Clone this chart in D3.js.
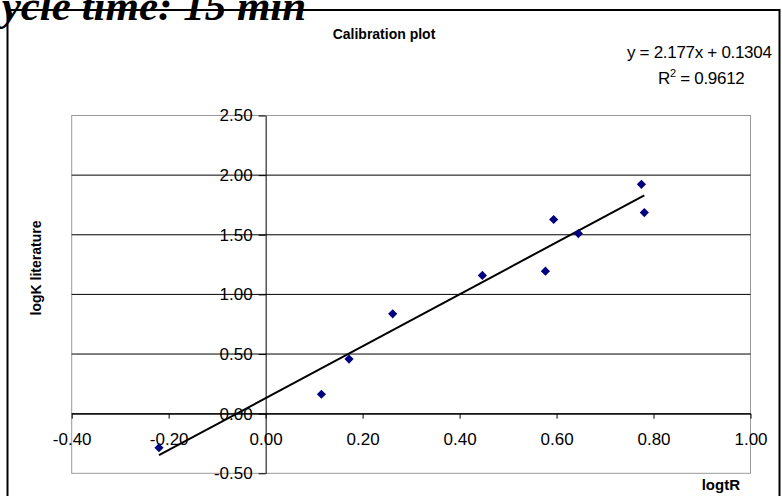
<!DOCTYPE html>
<html>
<head>
<meta charset="utf-8">
<script src="https://cdn.jsdelivr.net/npm/d3@7"></script>
<style>
  html, body { margin: 0; padding: 0; background: #fff; overflow: hidden; }
  svg { display: block; }
</style>
</head>
<body>
<svg id="chart" width="782" height="496"></svg>
<script>
// ---- data ----
const logtR       = [-0.220, 0.115, 0.172, 0.262, 0.447, 0.577, 0.594, 0.645, 0.775, 0.781];
const logKlit     = [-0.286, 0.163, 0.458, 0.837, 1.159, 1.195, 1.628, 1.510, 1.923, 1.686];
const xTicks      = [-0.4, -0.2, 0, 0.2, 0.4, 0.6, 0.8, 1.0];
const yTicks      = [-0.5, 0, 0.5, 1.0, 1.5, 2.0, 2.5];
const slope       = 2.177;
const intercept   = 0.1304;
const rSquared    = 0.9612;
const pageTitle   = "Cycle time: 15 min";
const chartTitle  = "Calibration plot";
const xTitle      = "logtR";
const yTitle      = "logK literature";

const svg = d3.select("#chart");
const font = "'Liberation Sans', Arial, sans-serif";

const x = d3.scaleLinear().domain([-0.4, 1.0]).range([71.7, 750.5]);
const y = d3.scaleLinear().domain([-0.5, 2.5]).range([473.3, 115.5]);

// outer chart border
svg.append("rect")
  .attr("x", 7.5).attr("y", 10).attr("width", 772).attr("height", 500)
  .attr("fill", "none").attr("stroke", "#000").attr("stroke-width", 2);

// plot area border
svg.append("rect")
  .attr("x", x(-0.4)).attr("y", y(2.5))
  .attr("width", x(1.0) - x(-0.4)).attr("height", y(-0.5) - y(2.5))
  .attr("fill", "none").attr("stroke", "#9a9a9a").attr("stroke-width", 1);

// horizontal gridlines
svg.append("g").selectAll("line")
  .data(yTicks.filter(v => v > -0.5 && v < 2.5))
  .join("line")
  .attr("x1", x(-0.4)).attr("x2", x(1.0))
  .attr("y1", d => y(d)).attr("y2", d => y(d))
  .attr("stroke", "#000").attr("stroke-width", 1);

const f2 = d3.format(".2f");
const fmt = v => f2(v).replace("\u2212", "-");

// x axis (crossing at y = 0)
const gx = svg.append("g")
  .attr("transform", `translate(0,${y(0)})`)
  .call(d3.axisBottom(x).tickValues(xTicks).tickFormat(fmt)
        .tickSize(5).tickSizeOuter(0).tickPadding(14));
// y axis (crossing at x = 0)
const gy = svg.append("g")
  .attr("transform", `translate(${x(0)},0)`)
  .call(d3.axisLeft(y).tickValues(yTicks).tickFormat(fmt)
        .tickSize(7).tickSizeOuter(0).tickPadding(6));

[gx, gy].forEach(g => {
  g.select(".domain").attr("stroke", "#000").attr("stroke-width", 1);
  g.selectAll(".tick line").attr("stroke", "#000").attr("stroke-width", 1);
  g.selectAll(".tick text")
    .attr("fill", "#000")
    .style("font-family", font)
    .style("font-size", "17px");
});

// trendline
const xMin = d3.min(logtR), xMax = d3.max(logtR);
svg.append("line")
  .attr("x1", x(xMin)).attr("y1", y(slope * xMin + intercept))
  .attr("x2", x(xMax)).attr("y2", y(slope * xMax + intercept))
  .attr("stroke", "#000").attr("stroke-width", 2);

// points
const pts = logtR.map((v, i) => ({ x: v, y: logKlit[i] }));
svg.append("g").selectAll("path")
  .data(pts)
  .join("path")
  .attr("d", d3.symbol(d3.symbolSquare, 42))
  .attr("transform", d => `translate(${x(d.x)},${y(d.y)}) rotate(45)`)
  .attr("fill", "#000080");

// page title (cropped at left, as in the source)
svg.append("text")
  .attr("x", -27).attr("y", 20)
  .style("font-family", "'Liberation Serif', 'Times New Roman', serif")
  .style("font-weight", "bold").style("font-style", "italic")
  .style("font-size", "43px")
  .text(pageTitle);

// chart title
svg.append("text")
  .attr("x", 384).attr("y", 39).attr("text-anchor", "middle")
  .style("font-family", font).style("font-weight", "bold").style("font-size", "14px")
  .text(chartTitle);

// equation
svg.append("text")
  .attr("x", 627).attr("y", 58)
  .style("font-family", font).style("font-size", "17px")
  .style("letter-spacing", "-0.3px")
  .text(`y = ${slope}x + ${intercept}`);
const r2 = svg.append("text")
  .attr("x", 658).attr("y", 84)
  .style("font-family", font).style("font-size", "17px")
  .style("letter-spacing", "-0.3px");
r2.append("tspan").text("R");
r2.append("tspan").attr("dy", -7).style("font-size", "11px").text("2");
r2.append("tspan").attr("dy", 7).text(` = ${rSquared}`);

// axis titles
svg.append("text")
  .attr("x", 740).attr("y", 490).attr("text-anchor", "end")
  .style("font-family", font).style("font-weight", "bold").style("font-size", "15px")
  .text(xTitle);
svg.append("text")
  .attr("transform", `translate(41,268) rotate(-90)`)
  .attr("text-anchor", "middle")
  .style("font-family", font).style("font-weight", "bold").style("font-size", "14px")
  .text(yTitle);
</script>
</body>
</html>
